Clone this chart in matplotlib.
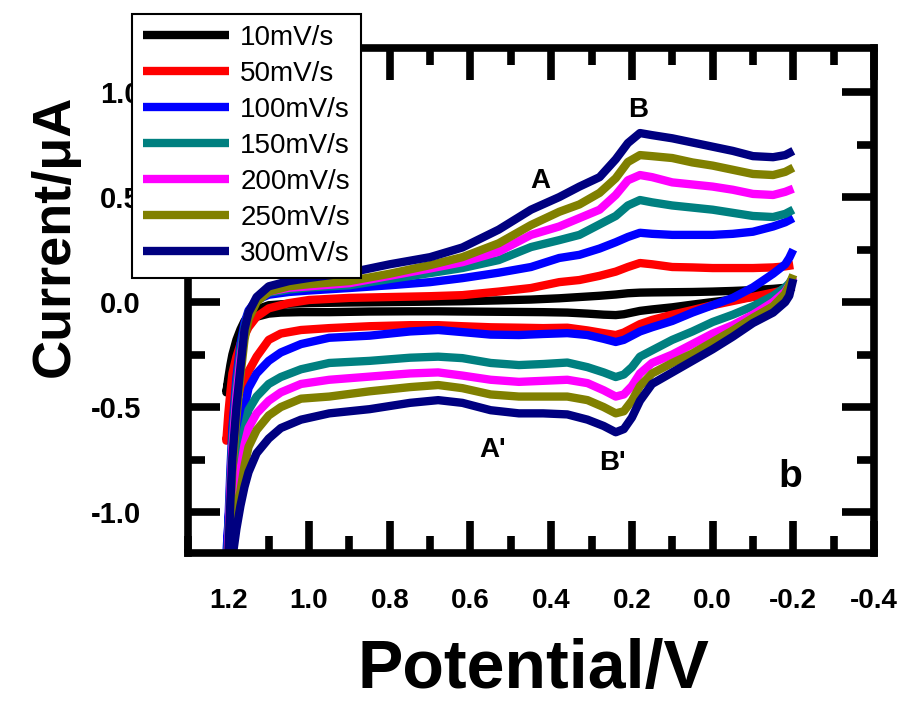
import matplotlib
matplotlib.use('Agg')
import matplotlib.pyplot as plt

plt.rcParams['font.family'] = ['Liberation Sans', 'DejaVu Sans']

scan_rates = ['10mV/s', '50mV/s', '100mV/s', '150mV/s', '200mV/s', '250mV/s', '300mV/s']
colors = ['#000000', '#ff0000', '#0000ff', '#008080', '#ff00ff', '#808000', '#000080']

# anodic (upper) branch, potential in V
upper_v = [1.205, 1.2, 1.195, 1.19, 1.18, 1.17, 1.16, 1.15, 1.13, 1.10, 1.05, 1.0, 0.9, 0.8, 0.7, 0.62,
           0.53, 0.45, 0.38, 0.33, 0.28, 0.24, 0.21, 0.18, 0.15, 0.1, 0.05, 0.0, -0.05, -0.1, -0.15, -0.18, -0.2]
up_10 = [-0.43, -0.36, -0.30, -0.25, -0.18, -0.13, -0.09, -0.065, -0.035, -0.015, -0.008, -0.005, -0.002, 0.0,
         0.002, 0.004, 0.008, 0.012, 0.018, 0.024, 0.03, 0.036, 0.042, 0.045, 0.046, 0.047, 0.048, 0.05, 0.053,
         0.057, 0.063, 0.068, 0.075]
up_50 = [-0.66, -0.53, -0.43, -0.34, -0.26, -0.20, -0.16, -0.12, -0.07, -0.03, -0.005, 0.01, 0.02, 0.024,
         0.028, 0.033, 0.05, 0.067, 0.095, 0.105, 0.125, 0.145, 0.167, 0.186, 0.18, 0.167, 0.165, 0.162, 0.162,
         0.162, 0.165, 0.17, 0.176]
up_100 = [-1.3, -1.05, -0.8, -0.6, -0.36, -0.2, -0.1, -0.04, 0.01, 0.035, 0.048, 0.055, 0.067, 0.08, 0.095,
          0.114, 0.14, 0.167, 0.21, 0.225, 0.255, 0.285, 0.31, 0.33, 0.325, 0.32, 0.32, 0.32, 0.325, 0.335,
          0.36, 0.38, 0.40]
up_150 = [-1.3, -1.1, -0.85, -0.65, -0.4, -0.23, -0.12, -0.05, 0.01, 0.045, 0.06, 0.07, 0.08, 0.11, 0.138,
          0.162, 0.20, 0.262, 0.295, 0.32, 0.37, 0.41, 0.46, 0.486, 0.475, 0.46, 0.45, 0.44, 0.425, 0.41,
          0.405, 0.42, 0.44]
up_200 = [-1.3, -1.15, -0.9, -0.7, -0.45, -0.27, -0.14, -0.06, 0.005, 0.05, 0.068, 0.075, 0.09, 0.125, 0.16,
          0.19, 0.24, 0.32, 0.36, 0.40, 0.44, 0.51, 0.58, 0.605, 0.595, 0.57, 0.56, 0.55, 0.535, 0.515, 0.51,
          0.525, 0.54]
up_250 = [-1.35, -1.22, -1.0, -0.8, -0.55, -0.35, -0.18, -0.08, 0.0, 0.05, 0.075, 0.085, 0.10, 0.135, 0.176,
          0.214, 0.28, 0.367, 0.43, 0.465, 0.52, 0.59, 0.667, 0.70, 0.695, 0.686, 0.665, 0.65, 0.63, 0.61,
          0.605, 0.62, 0.64]
up_300 = [-1.35, -1.21, -0.95, -0.74, -0.5, -0.31, -0.13, -0.05, 0.024, 0.075, 0.10, 0.115, 0.14, 0.18,
          0.214, 0.26, 0.345, 0.44, 0.50, 0.55, 0.595, 0.68, 0.757, 0.805, 0.795, 0.78, 0.76, 0.74, 0.72,
          0.695, 0.69, 0.70, 0.72]

# cathodic (lower) branch
lower_v = [1.205, 1.2, 1.195, 1.19, 1.18, 1.17, 1.16, 1.15, 1.13, 1.10, 1.07, 1.02, 0.95, 0.85, 0.75, 0.68,
           0.62, 0.55, 0.48, 0.42, 0.36, 0.31, 0.27, 0.24, 0.22, 0.2, 0.18, 0.15, 0.1, 0.05, 0.0, -0.05, -0.1,
           -0.15, -0.18, -0.19, -0.2]
low_10 = [-0.43, -0.38, -0.34, -0.30, -0.23, -0.17, -0.13, -0.10, -0.07, -0.055, -0.05, -0.048, -0.048,
          -0.045, -0.044, -0.044, -0.045, -0.046, -0.047, -0.048, -0.05, -0.055, -0.06, -0.062, -0.058, -0.05,
          -0.042, -0.035, -0.025, -0.012, 0.0, 0.012, 0.025, 0.04, 0.055, 0.062, 0.072]
low_50 = [-0.66, -0.61, -0.57, -0.53, -0.47, -0.42, -0.375, -0.33, -0.26, -0.18, -0.15, -0.133, -0.124,
          -0.115, -0.11, -0.11, -0.115, -0.12, -0.122, -0.124, -0.122, -0.135, -0.148, -0.157, -0.145, -0.125,
          -0.105, -0.085, -0.06, -0.038, -0.015, 0.005, 0.025, 0.045, 0.058, 0.065, 0.075]
low_100 = [-1.2, -1.05, -0.93, -0.83, -0.72, -0.6, -0.5, -0.41, -0.34, -0.28, -0.24, -0.2, -0.17, -0.16,
           -0.14, -0.133, -0.143, -0.155, -0.157, -0.152, -0.148, -0.157, -0.175, -0.19, -0.18, -0.16, -0.14,
           -0.12, -0.09, -0.05, -0.015, 0.02, 0.07, 0.135, 0.18, 0.21, 0.25]
low_150 = [-1.35, -1.2, -1.07, -0.97, -0.85, -0.74, -0.6, -0.514, -0.45, -0.39, -0.357, -0.32, -0.29, -0.28,
           -0.265, -0.26, -0.267, -0.29, -0.30, -0.295, -0.288, -0.31, -0.335, -0.357, -0.345, -0.31, -0.26,
           -0.23, -0.18, -0.14, -0.095, -0.06, -0.02, 0.03, 0.07, 0.09, 0.12]
low_200 = [-1.4, -1.25, -1.12, -1.03, -0.9, -0.8, -0.68, -0.6, -0.53, -0.47, -0.43, -0.39, -0.37, -0.355,
           -0.34, -0.335, -0.35, -0.37, -0.38, -0.375, -0.37, -0.386, -0.42, -0.45, -0.44, -0.40, -0.34, -0.29,
           -0.25, -0.2, -0.15, -0.11, -0.06, 0.0, 0.05, 0.08, 0.12]
low_250 = [-1.5, -1.4, -1.25, -1.13, -1.0, -0.9, -0.78, -0.69, -0.61, -0.54, -0.5, -0.46, -0.45, -0.425,
           -0.405, -0.395, -0.41, -0.44, -0.45, -0.45, -0.45, -0.467, -0.50, -0.53, -0.52, -0.47, -0.40, -0.34,
           -0.29, -0.245, -0.19, -0.135, -0.075, -0.02, 0.04, 0.08, 0.13]
low_300 = [-1.6, -1.5, -1.35, -1.22, -1.08, -0.97, -0.88, -0.81, -0.72, -0.65, -0.6, -0.56, -0.53, -0.51,
           -0.48, -0.467, -0.48, -0.515, -0.53, -0.53, -0.535, -0.56, -0.59, -0.62, -0.605, -0.55, -0.47, -0.39,
           -0.335, -0.28, -0.225, -0.165, -0.10, -0.05, 0.0, 0.03, 0.11]

uppers = [up_10, up_50, up_100, up_150, up_200, up_250, up_300]
lowers = [low_10, low_50, low_100, low_150, low_200, low_250, low_300]

x_ticks = [1.2, 1.0, 0.8, 0.6, 0.4, 0.2, 0.0, -0.2, -0.4]
x_labels = ['1.2', '1.0', '0.8', '0.6', '0.4', '0.2', '0.0', '-0.2', '-0.4']
y_ticks = [-1.0, -0.5, 0.0, 0.5, 1.0]
y_labels = ['-1.0', '-0.5', '0.0', '0.5', '1.0']

peaks = [('A', 0.428, 0.576), ('B', 0.185, 0.914), ("A'", 0.544, -0.705), ("B'", 0.249, -0.767)]

W, H = 909, 704
fig = plt.figure(figsize=(W / 100, H / 100), dpi=100)
ax = fig.add_axes([188 / W, 1 - 553 / H, (874 - 188) / W, (553 - 48) / H])

handles = []
for name, col, up, low in zip(scan_rates, colors, uppers, lowers):
    v = upper_v[::-1] + lower_v
    i = up[::-1] + low
    ln, = ax.plot(v, i, color=col, lw=6, solid_joinstyle='round', solid_capstyle='butt', label=name)
    handles.append(ln)

ax.set_xlim(1.3, -0.4)
ax.set_ylim(-1.195, 1.21)

ax.set_xticks(x_ticks, labels=x_labels)
ax.set_xticks([1.3, 1.1, 0.9, 0.7, 0.5, 0.3, 0.1, -0.1, -0.3], minor=True)
ax.set_yticks(y_ticks, labels=y_labels)
ax.set_yticks([-0.75, -0.25, 0.25, 0.75], minor=True)

for lab in ax.get_xticklabels():
    lab.set_fontweight('bold')
    lab.set_fontsize(20)
for lab in ax.get_yticklabels():
    lab.set_fontweight('bold')
    lab.set_fontsize(21)

ax.tick_params(which='both', direction='in', top=True, right=True, width=5.5, color='black')
ax.tick_params(which='major', length=23)
ax.tick_params(which='minor', length=12)
ax.tick_params(axis='x', which='major', pad=25)
ax.tick_params(axis='y', which='major', pad=34)
for sp in ax.spines.values():
    sp.set_linewidth(5.5)

for txt, xv, yv in peaks:
    ax.text(xv, yv, txt, ha='center', va='center', fontsize=20, fontweight='bold')
ax.text(-0.192, -0.833, 'b', ha='center', va='center', fontsize=28, fontweight='bold')

fig.text(55 / W, 1 - 236 / H, 'Current/\u03bcA', rotation=90, ha='center', va='center',
         fontsize=39, fontweight='bold')
fig.text(533 / W, 1 - 702 / H, 'Potential/V', ha='center', va='bottom',
         fontsize=49, fontweight='bold')

leg = fig.legend(handles, scan_rates, loc='upper left', bbox_to_anchor=(132 / W, 1 - 14 / H),
                 bbox_transform=fig.transFigure, fontsize=20, frameon=True, fancybox=False,
                 edgecolor='black', framealpha=1, handlelength=3.1, handletextpad=0.4,
                 labelspacing=0.36, borderpad=0.4, borderaxespad=0)
leg.get_frame().set_linewidth(1.5)

fig.savefig('out.png', dpi=100)
